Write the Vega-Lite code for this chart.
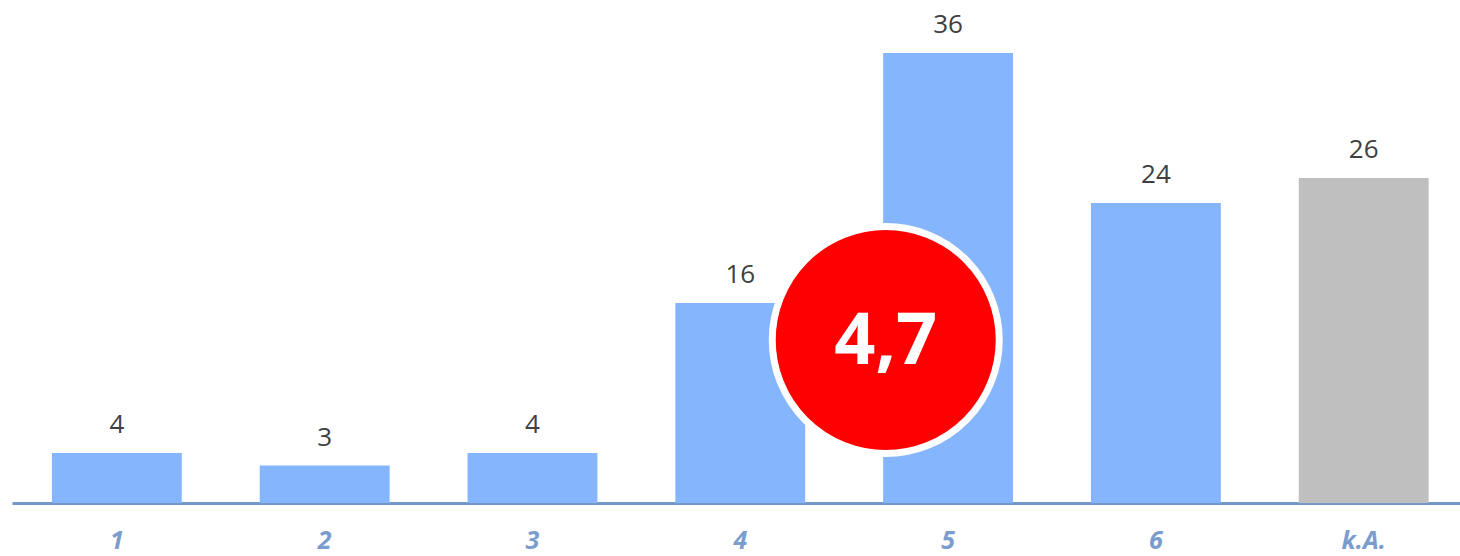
{
  "$schema": "https://vega.github.io/schema/vega-lite/v6.json",
  "width": 1448,
  "height": 503,
  "padding": {"left": 12, "top": 0, "right": 0, "bottom": 0},
  "background": "white",
  "config": {"view": {"stroke": null}, "font": "Open Sans"},
  "datasets": {
    "bars": [
      {"cat": "1", "value": 4, "kind": "score"},
      {"cat": "2", "value": 3, "kind": "score"},
      {"cat": "3", "value": 4, "kind": "score"},
      {"cat": "4", "value": 16, "kind": "score"},
      {"cat": "5", "value": 36, "kind": "score"},
      {"cat": "6", "value": 24, "kind": "score"},
      {"cat": "k.A.", "value": 26, "kind": "na"}
    ],
    "badge": [
      {"cat": "5", "value": 13.04, "label": "4,7"}
    ]
  },
  "encoding": {
    "x": {
      "field": "cat",
      "type": "nominal",
      "sort": ["1", "2", "3", "4", "5", "6", "k.A."],
      "scale": {"paddingInner": 0.375, "paddingOuter": 0.1715, "align": 0.56},
      "axis": {
        "title": null,
        "labelAngle": 0,
        "ticks": false,
        "domainColor": "#7399C8",
        "domainWidth": 3,
        "labelColor": "#7A9DCE",
        "labelFont": "Open Sans",
        "labelFontSize": 25,
        "labelFontWeight": "bold",
        "labelFontStyle": "italic",
        "labelPadding": 25
      }
    }
  },
  "layer": [
    {
      "data": {"name": "bars"},
      "mark": {"type": "bar"},
      "encoding": {
        "y": {"field": "value", "type": "quantitative", "scale": {"domain": [0, 40.24], "nice": false}, "axis": null},
        "color": {"field": "kind", "type": "nominal", "scale": {"domain": ["score", "na"], "range": ["#85B5FD", "#BFBFBF"]}, "legend": null}
      }
    },
    {
      "data": {"name": "bars"},
      "mark": {"type": "text", "dy": -20, "baseline": "alphabetic", "fontSize": 26, "color": "#404040", "font": "Open Sans"},
      "encoding": {
        "y": {"field": "value", "type": "quantitative", "scale": {"domain": [0, 40.24], "nice": false}, "axis": null},
        "text": {"field": "value", "type": "quantitative"}
      }
    },
    {
      "data": {"name": "badge"},
      "mark": {"type": "point", "shape": "circle", "filled": true, "fill": "#FF0000", "stroke": "white", "strokeWidth": 7, "size": 51529, "opacity": 1},
      "encoding": {
        "x": {"field": "cat", "type": "nominal", "sort": ["1", "2", "3", "4", "5", "6", "k.A."], "bandPosition": 0.02},
        "y": {"field": "value", "type": "quantitative", "scale": {"domain": [0, 40.24], "nice": false}, "axis": null}
      }
    },
    {
      "data": {"name": "badge"},
      "mark": {"type": "text", "baseline": "middle", "align": "center", "fontSize": 72, "fontWeight": "bold", "color": "white", "font": "Open Sans", "dy": 2},
      "encoding": {
        "x": {"field": "cat", "type": "nominal", "sort": ["1", "2", "3", "4", "5", "6", "k.A."], "bandPosition": 0.02},
        "y": {"field": "value", "type": "quantitative", "scale": {"domain": [0, 40.24], "nice": false}, "axis": null},
        "text": {"field": "label"}
      }
    }
  ]
}
